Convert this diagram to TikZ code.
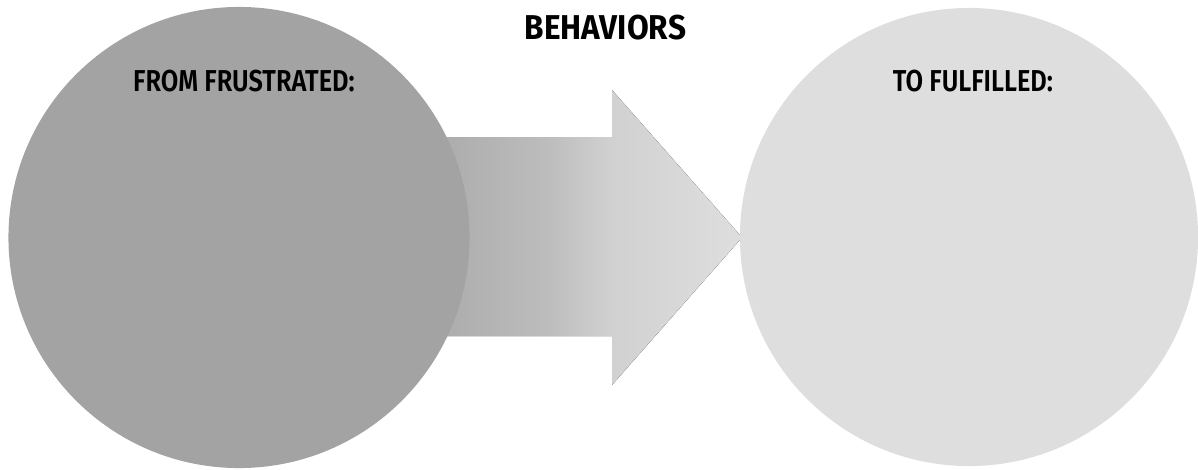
\documentclass[tikz,border=0pt]{standalone}
\usepackage{fontspec}
\setmainfont{Fira Sans}
\newfontfamily\titlefont[FakeStretch=0.915]{Fira Sans Bold}
\newfontfamily\headfont[FakeStretch=0.84]{Fira Sans SemiBold}
\usepackage{tikz}
\usetikzlibrary{calc, positioning}

\definecolor{frustgray}{HTML}{A3A3A3}
\definecolor{fulfilgray}{HTML}{DEDEDE}

% left to right fade of the arrow (the box of the path is 25bp to 75bp)
\pgfdeclarehorizontalshading{arrowfade}{100bp}{%
    color(0bp)=(frustgray!90!white); color(25bp)=(frustgray!90!white);
    color(43bp)=(black!26); color(53.5bp)=(black!18);
    color(75bp)=(fulfilgray); color(100bp)=(fulfilgray)}

\begin{document}
\begin{tikzpicture}[x=0.025cm, y=-0.025cm,
    bubble/.style={circle, inner sep=0pt, outer sep=0pt, draw=none},
    label/.style={font=\headfont\fontsize{21.5}{24}\selectfont, inner sep=0pt}]
    \useasboundingbox (0,0) rectangle (1198,469);

    % Gradient arrow (drawn first, the circles cover its ends)
    \fill[shading=arrowfade]
        (440,137) -- (612,137) -- (612,90) -- (742,237.5)
        -- (612,385) -- (612,336) -- (440,336) -- cycle;

    % Two circles
    \node[bubble, fill=frustgray, minimum size=11.525cm] (from) at (239,237.5) {};
    \node[bubble, fill=fulfilgray, minimum size=11.45cm] (to) at (969,237) {};

    % Labels
    \node[font=\titlefont\fontsize{24.5}{28}\selectfont, inner sep=0pt] (title) at (605.5,28) {BEHAVIORS};
    \node[label] (fromlabel) at (244,81) {FROM FRUSTRATED:};
    \node[label] (tolabel) at (973,81) {TO FULFILLED:};
\end{tikzpicture}
\end{document}
